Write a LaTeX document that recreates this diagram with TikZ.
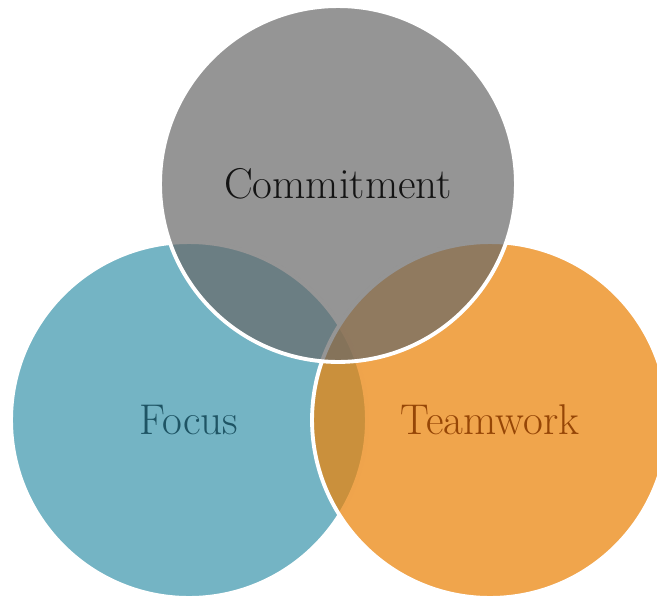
\documentclass[tikz,border=0pt]{standalone}
\usepackage{xcolor}
\usepackage{tikz}
\usetikzlibrary{positioning}

\definecolor{focusblue}{RGB}{116,180,196}
\definecolor{teamorange}{RGB}{234,131,10}
\definecolor{commitgray}{RGB}{104,104,104}
\definecolor{focustext}{RGB}{30,84,100}
\definecolor{teamtext}{RGB}{150,70,6}

\begin{document}
\begin{tikzpicture}[x=0.02cm,y=-0.02cm]
	\tikzstyle{ring}=[circle,draw=white,line width=2.2pt,minimum size=7.12cm,text opacity=1,font=\fontsize{24.5}{29}\selectfont]
	\useasboundingbox (0,0) rectangle (657,596);
	\clip (0,0) rectangle (657,596);
	\node[ring,fill=focusblue,text=focustext](focus) at (189,420) {Focus};
	\node[ring,fill=teamorange,fill opacity=0.73,text=teamtext](teamwork) at (490,420) {Teamwork};
	\node[ring,fill=commitgray,fill opacity=0.7,text=black!92](commitment) at (338,184) {Commitment};
\end{tikzpicture}
\end{document}
